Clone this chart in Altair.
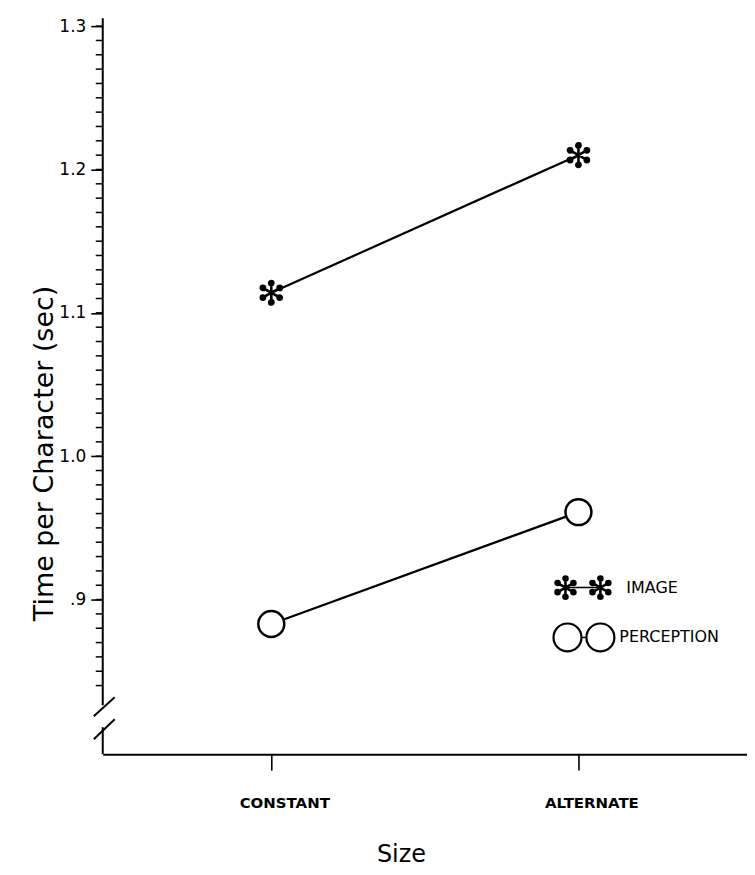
import math
import altair as alt
import pandas as pd

# ---------------- data ----------------
conditions = ["CONSTANT", "ALTERNATE"]
image_times = [1.114, 1.210]
perception_times = [0.883, 0.961]
series_names = ["IMAGE", "PERCEPTION"]
y_major_ticks = [0.9, 1.0, 1.1, 1.2, 1.3]
y_minor_ticks = [round(0.84 + 0.01 * i, 2) for i in range(47)]

df = pd.DataFrame({
    "size": conditions + conditions,
    "time": image_times + perception_times,
    "series": [series_names[0]] * 2 + [series_names[1]] * 2,
})
ticks_df = pd.DataFrame({"time": y_minor_ticks})

# ---------------- asterisk symbol path ----------------
parts = []
for a in (90, 30, 150):
    x = 0.80 * math.cos(math.radians(a))
    y = -0.80 * math.sin(math.radians(a))
    parts.append(f"M{x:.3f},{y:.3f}L{-x:.3f},{-y:.3f}")
r = 0.18
for a in range(30, 390, 60):
    cx = 0.82 * math.cos(math.radians(a))
    cy = -0.82 * math.sin(math.radians(a))
    parts.append(
        f"M{cx + r:.3f},{cy:.3f}A{r},{r} 0 1,0 {cx - r:.3f},{cy:.3f}"
        f"A{r},{r} 0 1,0 {cx + r:.3f},{cy:.3f}Z"
    )
ASTERISK = "".join(parts)

FONT = "DejaVu Sans"
W, H = 646, 738
Y_DOMAIN = [0.79217, 1.30557]
y_scale = alt.Scale(domain=Y_DOMAIN, nice=False, zero=False)

x_enc = alt.X(
    "size:N",
    sort=conditions,
    scale=alt.Scale(type="point", padding=0.5487),
    axis=alt.Axis(
        title="Size",
        titleFont=FONT, titleFontSize=24, titleFontWeight="normal", titleColor="black",
        titleX=299, titleY=108, titleBaseline="alphabetic",
        labelFont=FONT, labelFontSize=15, labelFontWeight="bold", labelColor="black",
        labelAngle=0, labelPadding=26, labelBaseline="top", labelOffset=13,
        domain=True, domainColor="black", domainWidth=2,
        ticks=True, tickSize=16, tickWidth=1.6, tickColor="black",
        grid=False,
    ),
)

y_axis = alt.Axis(
    title="Time per Character  (sec)",
    titleFont=FONT, titleFontSize=27, titleFontWeight="normal", titleColor="black",
    titleX=-50, titleY=436, titleBaseline="alphabetic",
    values=y_major_ticks,
    labelExpr="datum.value < 0.95 ? '.9' : format(datum.value, '.1f')",
    labelFont=FONT, labelFontSize=17, labelColor="black", labelPadding=5,
    labelOverlap=False, labelFlush=False,
    domain=False, grid=False,
    tickColor="black", tickWidth=1.6, tickSize=12,
)
y_enc = alt.Y("time:Q", scale=y_scale, axis=y_axis)

base = alt.Chart(df)

lines = base.mark_line(color="black", strokeWidth=2.2).encode(
    x=x_enc, y=y_enc, detail="series:N"
)

minor_ticks = alt.Chart(ticks_df).mark_rule(color="black", strokeWidth=1.5).encode(
    y=alt.Y("time:Q", scale=y_scale, axis=y_axis),
    x=alt.value(-7), x2=alt.value(0),
)

image_pts = base.transform_filter(alt.datum.series == series_names[0]).mark_point(
    shape=ASTERISK, size=560, filled=True, fill="black", stroke="black",
    strokeWidth=2.6, opacity=1,
).encode(x=x_enc, y=y_enc)

perc_pts = base.transform_filter(alt.datum.series == series_names[1]).mark_point(
    shape="circle", size=676, filled=True, fill="white", stroke="black",
    strokeWidth=2.5, opacity=1,
).encode(x=x_enc, y=y_enc)

# broken y-axis line
one = pd.DataFrame({"k": [0]})
axis_upper = alt.Chart(one).mark_rule(color="black", strokeWidth=2).encode(
    x=alt.value(0), y=alt.value(0), y2=alt.value(689)
)
axis_lower = alt.Chart(one).mark_rule(color="black", strokeWidth=2).encode(
    x=alt.value(0), y=alt.value(711), y2=alt.value(738)
)
slash1 = alt.Chart(one).mark_rule(color="black", strokeWidth=2).encode(
    x=alt.value(-9), x2=alt.value(12), y=alt.value(700), y2=alt.value(681)
)
slash2 = alt.Chart(one).mark_rule(color="black", strokeWidth=2).encode(
    x=alt.value(-9), x2=alt.value(12), y=alt.value(723), y2=alt.value(703)
)

# legend
leg1 = pd.DataFrame({"label": [series_names[0]]})
leg2 = pd.DataFrame({"label": [series_names[1]]})
ly1, ly2 = 571, 621
leg_layers = [
    alt.Chart(leg1).mark_rule(color="black", strokeWidth=1.5).encode(
        x=alt.value(464), x2=alt.value(499), y=alt.value(ly1)),
    alt.Chart(leg1).mark_point(shape=ASTERISK, size=500, filled=True, fill="black",
                               stroke="black", strokeWidth=2.6, opacity=1).encode(
        x=alt.value(464), y=alt.value(ly1)),
    alt.Chart(leg1).mark_point(shape=ASTERISK, size=500, filled=True, fill="black",
                               stroke="black", strokeWidth=2.6, opacity=1).encode(
        x=alt.value(499), y=alt.value(ly1)),
    alt.Chart(leg1).mark_text(align="left", baseline="middle", font=FONT, fontSize=16,
                              color="black").encode(
        x=alt.value(525), y=alt.value(ly1), text="label:N"),
    alt.Chart(leg2).mark_rule(color="black", strokeWidth=1.5).encode(
        x=alt.value(466), x2=alt.value(499), y=alt.value(ly2)),
    alt.Chart(leg2).mark_point(shape="circle", size=784, filled=True, fill="white",
                               stroke="black", strokeWidth=2.2, opacity=1).encode(
        x=alt.value(466), y=alt.value(ly2)),
    alt.Chart(leg2).mark_point(shape="circle", size=784, filled=True, fill="white",
                               stroke="black", strokeWidth=2.2, opacity=1).encode(
        x=alt.value(499), y=alt.value(ly2)),
    alt.Chart(leg2).mark_text(align="left", baseline="middle", font=FONT, fontSize=16,
                              color="black").encode(
        x=alt.value(518), y=alt.value(ly2), text="label:N"),
]

chart = alt.layer(
    lines, minor_ticks, image_pts, perc_pts, axis_upper, axis_lower, slash1, slash2,
    *leg_layers
).properties(
    width=W, height=H,
    autosize=alt.AutoSizeParams(type="none"),
    padding={"left": 95, "top": 9, "right": 0, "bottom": 112},
    background="white",
).configure_view(stroke=None)

chart.save("out.html", embed_options={"renderer": "svg", "actions": False})
